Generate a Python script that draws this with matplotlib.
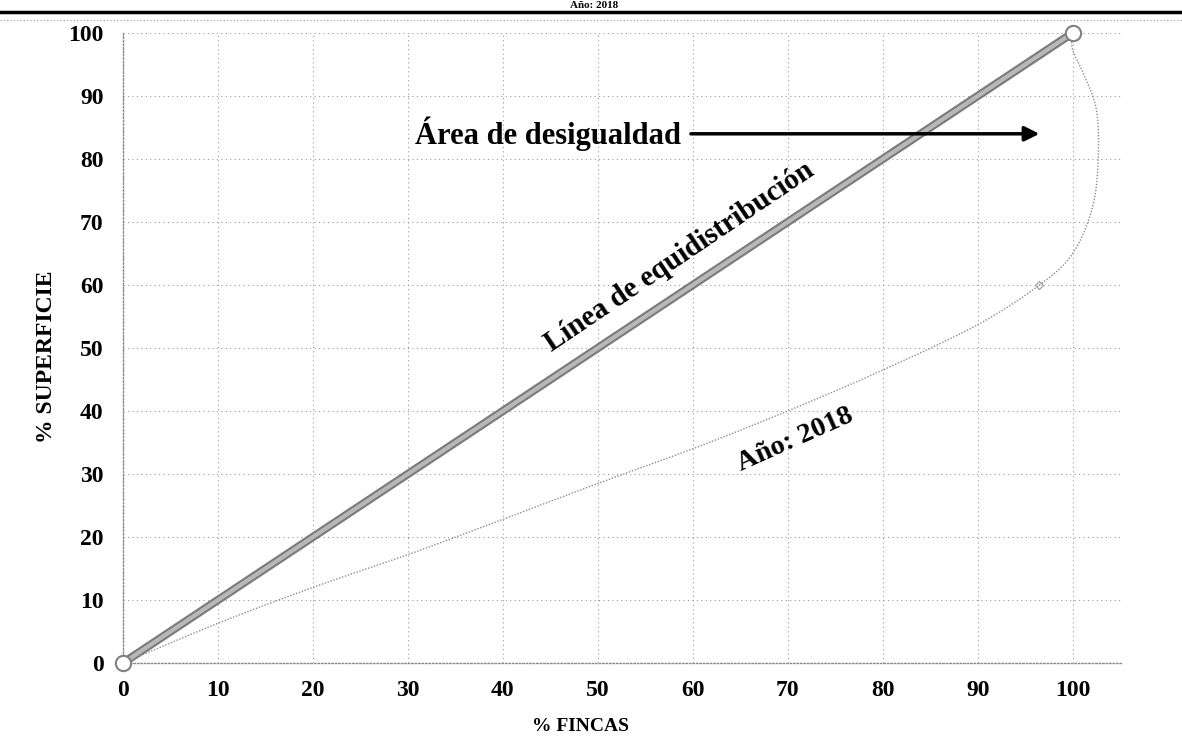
import numpy as np
import matplotlib.pyplot as plt
from matplotlib.lines import Line2D

plt.rcParams['font.family'] = ['Liberation Serif', 'DejaVu Serif']
plt.rcParams['font.weight'] = 'bold'

# data
equi_x = [0, 100]
equi_y = [0, 100]

# Lorenz curve, year 2018 (the smoothed line bulges past 100 near the top)
lorenz_x = [0, 10, 20, 30, 40, 50, 60, 70, 80, 90, 96.5, 100, 102.1, 102.7, 102.5, 101.3, 100, 100]
lorenz_y = [0, 6.3, 12, 17.2, 22.8, 28.5, 34, 40, 46.5, 53.7, 60, 65, 72.4, 80.3, 87.8, 93, 97.3, 100]

x_ticks = list(range(0, 101, 10))
y_ticks = list(range(0, 101, 10))


def catmull_rom(xs, ys, n=20):
    # smooth line through the points, like the "smoothed line" option of the source chart
    p = np.column_stack([xs, ys]).astype(float)
    p = np.vstack([2 * p[0] - p[1], p, 2 * p[-1] - p[-2]])
    out = []
    t = np.linspace(0, 1, n, endpoint=False)[:, None]
    for i in range(1, len(p) - 2):
        p0, p1, p2, p3 = p[i - 1], p[i], p[i + 1], p[i + 2]
        seg = 0.5 * ((2 * p1) + (-p0 + p2) * t
                     + (2 * p0 - 5 * p1 + 4 * p2 - p3) * t ** 2
                     + (-p0 + 3 * p1 - 3 * p2 + p3) * t ** 3)
        out.append(seg)
    out.append(p[-2][None, :])
    out = np.vstack(out)
    return out[:, 0], out[:, 1]


fig = plt.figure(figsize=(11.82, 7.5), dpi=100)
ax = fig.add_axes([123 / 1182, 87 / 750, 1000 / 1182, 630 / 750])

ax.set_xlim(0, 105.3)
ax.set_ylim(0, 100)
ax.set_xticks(x_ticks)
ax.set_yticks(y_ticks)
ax.tick_params(length=0, labelsize=17)
ax.tick_params(axis='x', pad=12)
ax.tick_params(axis='y', pad=14)
for lab in ax.get_xticklabels() + ax.get_yticklabels():
    lab.set_fontweight('bold')

ax.grid(True, color='#9a9a9a', linestyle=(0, (1, 3)), linewidth=0.8)
for side in ['top', 'right']:
    ax.spines[side].set_visible(False)
for side in ['left', 'bottom']:
    ax.spines[side].set_color('#8a8a8a')
    ax.spines[side].set_linestyle((0, (1, 1.5)))
    ax.spines[side].set_linewidth(1.0)

ax.set_xlabel('% FINCAS', fontsize=14, fontweight='bold')
ax.xaxis.set_label_coords(0.457, -0.088)
ax.set_ylabel('% SUPERFICIE', fontsize=17, fontweight='bold')
ax.yaxis.set_label_coords(-0.066, 0.486)

# equidistribution line
ax.plot(equi_x, equi_y, color='#7a7a7a', linewidth=6, solid_capstyle='round',
        clip_on=False, zorder=3)
ax.plot(equi_x, equi_y, color='#b8b8b8', linewidth=3.0, clip_on=False, zorder=4)
ax.plot(equi_x, equi_y, linestyle='none', marker='o', markersize=11,
        markerfacecolor='white', markeredgecolor='#808080', markeredgewidth=1.5,
        clip_on=False, zorder=5)

# Lorenz curve
sx, sy = catmull_rom(lorenz_x, lorenz_y)
ax.plot(sx, sy, color='#8c8c8c', linewidth=1.0, linestyle=(0, (1, 1.2)),
        clip_on=False, zorder=3)
ax.plot([lorenz_x[10]], [lorenz_y[10]], linestyle='none', marker='D', markersize=4,
        markerfacecolor='none', markeredgecolor='#999999', markeredgewidth=0.8,
        clip_on=False, zorder=3)

# annotations
ax.text(44.8, 84, 'Área de desigualdad', fontsize=22, fontweight='bold',
        ha='center', va='center', zorder=6)
ax.annotate('', xy=(96.5, 84), xytext=(59.8, 84),
            arrowprops=dict(arrowstyle='-|>', color='black', lw=2.5,
                            mutation_scale=22, shrinkA=0, shrinkB=0), zorder=6)
ax.text(58.6, 64.5, 'Línea de equidistribución', fontsize=21, fontweight='bold',
        rotation=34, rotation_mode='anchor', ha='center', va='center', zorder=6)
ax.text(70.8, 35.4, 'Año: 2018', fontsize=20.5, fontweight='bold',
        rotation=24, rotation_mode='anchor', ha='center', va='center', zorder=6)

# header of the page, squeezed above the rule
fig.text(0.503, 1 - 0.5 / 750, 'Año: 2018', fontsize=8, fontweight='bold',
         ha='center', va='top')
fig.add_artist(Line2D([0, 1], [1 - 11.5 / 750, 1 - 11.5 / 750], color='black', linewidth=2.5))
fig.add_artist(Line2D([0, 1], [1 - 20 / 750, 1 - 20 / 750], color='#9a9a9a',
                      linewidth=0.8, linestyle=(0, (1, 2))))

fig.savefig('out.png', dpi=100)
